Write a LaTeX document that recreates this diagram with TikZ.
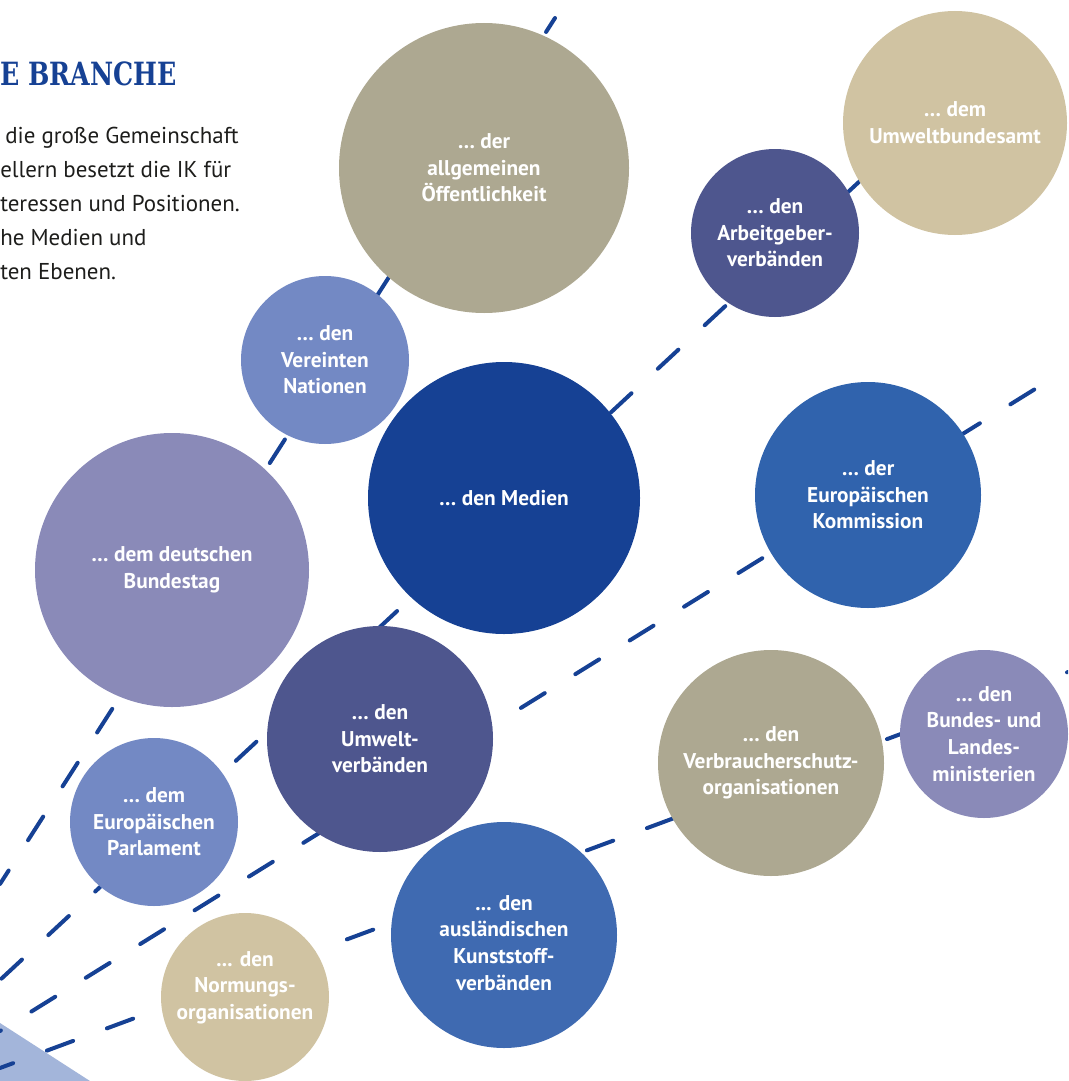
\documentclass[tikz,border=0pt]{standalone}
\usepackage{fontspec}
\setmainfont{PT Sans}
\newfontfamily\slabfont{DejaVu Serif}
\definecolor{ikdark}{HTML}{164194}
\definecolor{ikblue}{HTML}{3063AD}
\definecolor{ikmid}{HTML}{3F6AB1}
\definecolor{iklight}{HTML}{7389C4}
\definecolor{iklav}{HTML}{8A8AB8}
\definecolor{ikslate}{HTML}{4E568E}
\definecolor{ikgray}{HTML}{ADA891}
\definecolor{iksand}{HTML}{D0C3A2}
\definecolor{ikpale}{HTML}{A3B5DA}
\definecolor{iktext}{HTML}{1D1D1B}
\begin{document}
\begin{tikzpicture}[x=0.75pt,y=-0.75pt,
    bub/.style={circle,inner sep=0pt,align=center,text=white,
      font=\bfseries\fontsize{16}{20}\selectfont},
    small/.style={bub,minimum size=126pt},
    mid/.style={bub,minimum size=169.5pt},
    ray/.style={draw=ikdark,line width=3pt,line cap=round,
      dash pattern=on 21pt off 27pt},
    body/.style={anchor=base west,inner sep=0pt,text=iktext,
      font=\fontsize{17.2}{20}\selectfont}]
\useasboundingbox (0,0) rectangle (1068,1081);
\clip (0,0) rectangle (1068,1081);

% heading and intro text
\node[anchor=base west,inner sep=0pt,text=ikdark,xscale=0.79,transform shape,
  font=\slabfont\bfseries\fontsize{24}{28}\selectfont] (title) at (0,85) {E BRANCHE};
\node[body] (l1) at (5,143) {die große Gemeinschaft};
\node[body] (l2) at (0,177) {ellern besetzt die IK für};
\node[body] (l3) at (0,211) {teressen und Positionen.};
\node[body] (l4) at (0,245) {he Medien und};
\node[body] (l5) at (0,279) {ten Ebenen.};

% corner
\fill[ikpale] (0,1023) -- (90,1081) -- (0,1081) -- cycle;

% rays
\coordinate (a0) at (0,884);    \coordinate (a1) at (555,18);
\coordinate (b0) at (0,980);    \coordinate (b1) at (960,88);
\coordinate (c0) at (0,1031);   \coordinate (c1) at (1048,381);
\coordinate (d0) at (0,1068);   \coordinate (d1) at (1068,672);
\draw[ray,dash phase=9pt] (a0) -- (a1);
\draw[ray,dash phase=46.5pt] (b0) -- (b1);
\draw[ray,dash phase=20.25pt] (c0) -- (c1);
\draw[ray,dash phase=10.5pt] (d0) -- (d1);

% circles
\node[bub,fill=ikgray,minimum size=217.5pt] (oeff) at (484,168) {… der\\allgemeinen\\Öffentlichkeit};
\node[bub,fill=iksand,minimum size=168pt] (uba) at (955,123) {… dem\\Umweltbundesamt};
\node[small,fill=ikslate] (arbg) at (775,233) {… den\\Arbeitgeber-\\verbänden};
\node[small,fill=iklight] (un) at (325,360) {… den\\Vereinten\\Nationen};
\node[bub,fill=ikdark,minimum size=204pt] (medien) at (504,498) {… den Medien};
\node[mid,fill=ikblue] (kom) at (868,495) {… der\\Europäischen\\Kommission};
\node[bub,fill=iklav,minimum size=205.5pt] (btag) at (172,570) {… dem deutschen\\Bundestag};
\node[mid,fill=ikslate] (uwv) at (380,739) {… den\\Umwelt-\\verbänden};
\node[small,fill=iklight] (ep) at (154,822) {… dem\\Europäischen\\Parlament};
\node[mid,fill=ikgray] (vbs) at (771,763) {… den\\Verbraucherschutz-\\organisationen};
\node[small,fill=iklav] (min) at (984,734) {… den\\Bundes- und\\Landes-\\ministerien};
\node[mid,fill=ikmid,label={[text=white,align=center,font=\bfseries\fontsize{16}{20}\selectfont,yshift=-6pt]center:... den\\ausländischen\\Kunststoff-\\verbänden}] (kunst) at (504,935) {};
\node[small,fill=iksand,label={[text=white,align=center,font=\bfseries\fontsize{16}{20}\selectfont,yshift=7pt]center:... den\\Normungs-\\organisationen}] (norm) at (245,997) {};
\end{tikzpicture}
\end{document}
